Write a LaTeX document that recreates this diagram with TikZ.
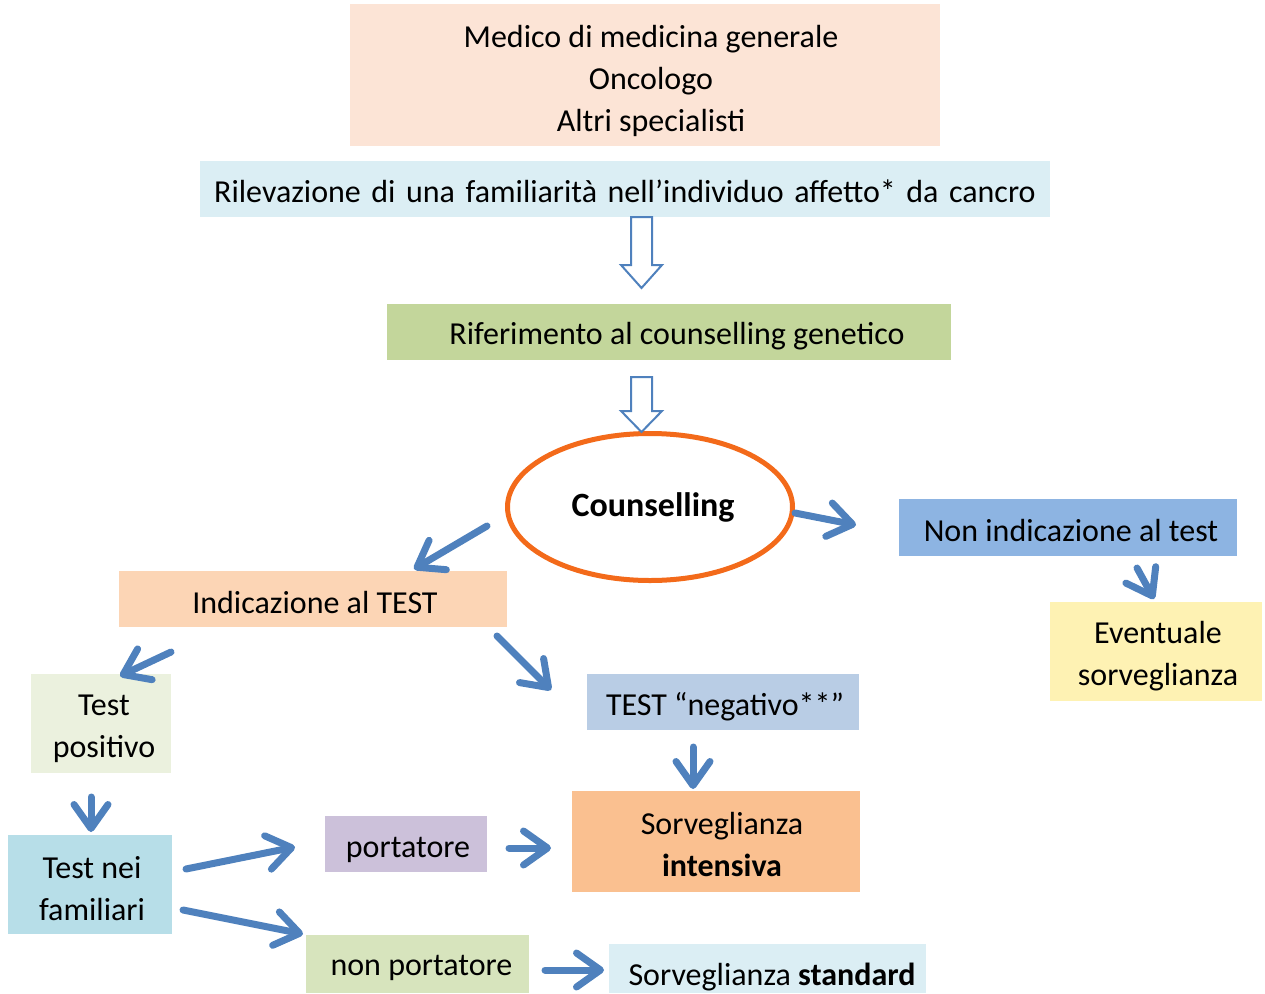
\documentclass[tikz,border=0pt]{standalone}
\usepackage{fontspec}
\setmainfont{Carlito}
\usetikzlibrary{arrows.meta,shapes.geometric}
\definecolor{cTop}{HTML}{FCE4D6}
\definecolor{cRil}{HTML}{DBEEF4}
\definecolor{cRif}{HTML}{C3D69B}
\definecolor{cNoInd}{HTML}{8DB4E2}
\definecolor{cEvent}{HTML}{FEF2B3}
\definecolor{cInd}{HTML}{FCD5B5}
\definecolor{cPos}{HTML}{EBF1DE}
\definecolor{cNeg}{HTML}{B9CDE5}
\definecolor{cSint}{HTML}{FAC090}
\definecolor{cFam}{HTML}{B7DEE8}
\definecolor{cPort}{HTML}{CCC1DA}
\definecolor{cNonPort}{HTML}{D7E4BD}
\definecolor{cStd}{HTML}{DBEEF4}
\definecolor{arrowblue}{HTML}{4F81BD}
\definecolor{orangeline}{HTML}{F36A1A}
\tikzset{
  box/.style={draw=none, inner sep=0pt},
  label text/.style={inner sep=0pt, align=center, font=\fontsize{32}{42}\selectfont},
  flow/.style={draw=arrowblue, line width=7pt, line cap=round,
    -{Straight Barb[length=24pt,width=34pt,line cap=round,line join=round]}},
  hollow/.style={draw=arrowblue, line width=2pt, fill=white, line join=miter}
}
\begin{document}
\begin{tikzpicture}[x=1pt,y=-1pt]
\useasboundingbox (0,0) rectangle (1265,993);
% boxes
\node[box, fill=cTop, minimum width=590pt, minimum height=142pt] (top) at (645,75) {};
\node[label text] (toptext) at ([xshift=6pt,yshift=-6pt]top.center)
  {Medico di medicina generale\\Oncologo\\Altri specialisti};
\node[box, fill=cRil, minimum width=850pt, minimum height=56pt] (ril) at (625,189) {};
\node[label text] (riltext) at ([yshift=-2pt]ril.center)
  {\spaceskip=0.33em\relax Rilevazione di una familiarità nell’individuo affetto* da cancro};
\node[box, fill=cRif, minimum width=564pt, minimum height=56pt] (rif) at (669,332) {};
\node[label text] (riftext) at ([xshift=8pt,yshift=-4pt]rif.center)
  {Riferimento al counselling genetico};
\node[draw=orangeline, line width=5pt, ellipse, minimum width=285pt, minimum height=147pt, inner sep=0pt] (couns) at (650,507) {};
\node[inner sep=0pt, font=\fontsize{34}{40}\selectfont\bfseries] (counstext) at ([xshift=3pt]couns.center) {Counselling};
\node[box, fill=cNoInd, minimum width=338pt, minimum height=57pt] (noind) at (1068,527.5) {};
\node[label text] (noindtext) at ([xshift=3pt,yshift=-3pt]noind.center) {Non indicazione al test};
\node[box, fill=cEvent, minimum width=212pt, minimum height=99pt] (event) at (1156,651.5) {};
\node[label text] (eventtext) at ([xshift=2pt,yshift=-5pt]event.center) {Eventuale\\sorveglianza};
\node[box, fill=cInd, minimum width=388pt, minimum height=56pt] (ind) at (313,599) {};
\node[label text] (indtext) at ([xshift=2pt,yshift=-3pt]ind.center) {Indicazione al TEST};
\node[box, fill=cPos, minimum width=140pt, minimum height=99pt] (pos) at (101,723.5) {};
\node[label text] (postext) at ([xshift=3pt,yshift=-5pt]pos.center) {Test\\positivo};
\node[box, fill=cNeg, minimum width=272pt, minimum height=56pt] (neg) at (723,702) {};
\node[label text] (negtext) at ([xshift=2pt,yshift=-5pt]neg.center) {TEST “negativo**”};
\node[box, fill=cSint, minimum width=288pt, minimum height=101pt] (sint) at (716,841.5) {};
\node[label text] (sinttext) at ([xshift=6pt,yshift=-3pt]sint.center) {Sorveglianza\\\textbf{intensiva}};
\node[box, fill=cFam, minimum width=164pt, minimum height=99pt] (fam) at (90,884.5) {};
\node[label text] (famtext) at ([xshift=2pt,yshift=-4pt]fam.center) {Test nei\\familiari};
\node[box, fill=cPort, minimum width=162pt, minimum height=56pt] (port) at (406,844) {};
\node[label text] (porttext) at ([xshift=2pt,yshift=-6pt]port.center) {portatore};
\node[box, fill=cNonPort, minimum width=223pt, minimum height=58pt] (nonport) at (417.5,964) {};
\node[label text] (nonporttext) at ([xshift=4pt,yshift=-4pt]nonport.center) {non portatore};
\node[box, fill=cStd, minimum width=317pt, minimum height=49pt] (sstd) at (767.5,968.5) {};
\node[label text] (sstdtext) at (772,977) {Sorveglianza \textbf{standard}};
% hollow block arrows
\draw[hollow] (631,217) -- (652,217) -- (652,265) -- (662,265) -- (641.5,288)
  -- (621,265) -- (631,265) -- cycle;
\draw[hollow] (631,377) -- (652,377) -- (652,411) -- (662,411) -- (641.5,432)
  -- (621,411) -- (631,411) -- cycle;
% connector end points
\coordinate (a1) at (487,526); \coordinate (a2) at (414,569);
\coordinate (b1) at (795,513); \coordinate (b2) at (856,525);
\coordinate (c1) at (1137,568); \coordinate (c2) at (1154,599);
\coordinate (d1) at (171,652); \coordinate (d2) at (120,676);
\coordinate (e1) at (497,636); \coordinate (e2) at (551,690);
\coordinate (f1) at (693,747); \coordinate (f2) at (693,789);
\coordinate (g1) at (91,797); \coordinate (g2) at (91,832);
\coordinate (h1) at (186,869); \coordinate (h2) at (295,847);
\coordinate (i1) at (183,910); \coordinate (i2) at (303,934);
\coordinate (j1) at (509,848); \coordinate (j2) at (551,848);
\coordinate (k1) at (545,970); \coordinate (k2) at (604,970);
\draw[flow] (a1) -- (a2);
\draw[flow] (b1) -- (b2);
\draw[flow] (c1) -- (c2);
\draw[flow] (d1) -- (d2);
\draw[flow] (e1) -- (e2);
\draw[flow] (f1) -- (f2);
\draw[flow] (g1) -- (g2);
\draw[flow] (h1) -- (h2);
\draw[flow] (i1) -- (i2);
\draw[flow] (j1) -- (j2);
\draw[flow] (k1) -- (k2);
\end{tikzpicture}
\end{document}
